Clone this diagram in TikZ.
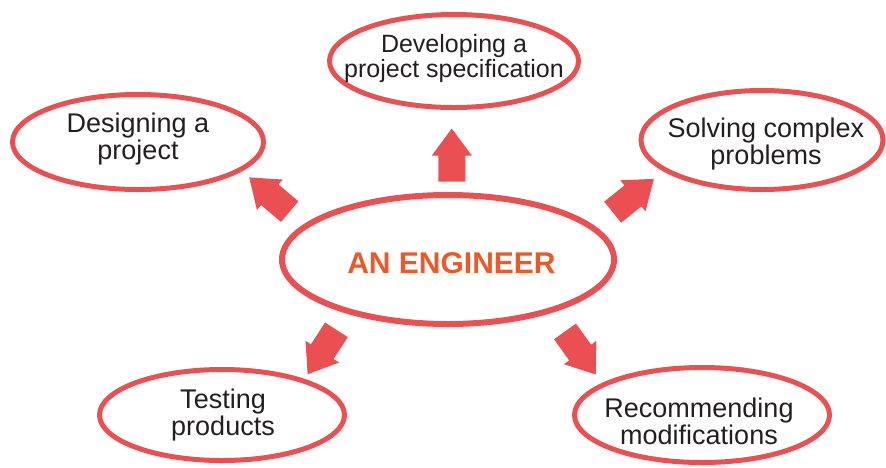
\documentclass[tikz,border=0pt]{standalone}
\usepackage{fontspec}
\setmainfont{Liberation Sans}
\definecolor{engred}{RGB}{234,80,82}
\definecolor{engorange}{RGB}{238,88,38}
\definecolor{engtext}{RGB}{35,31,32}

\begin{document}
\begin{tikzpicture}[x=1pt, y=-1pt,
  ring/.style={draw=engred, line width=5pt},
  task/.style={align=center, inner sep=0pt, text=engtext, font={\fontsize{27}{27}\selectfont}},
  bigarrow/.style={fill=engred}]
  \useasboundingbox (0,0) rectangle (886,467);

  % the ellipses
  \draw[ring, line width=6pt] (448,259.5) ellipse [x radius=166, y radius=64.5];
  \draw[ring] (454,61) ellipse [x radius=124.5, y radius=46.5];
  \draw[ring] (138,142) ellipse [x radius=125.5, y radius=47.5];
  \draw[ring] (762,140) ellipse [x radius=121, y radius=49.5];
  \draw[ring] (222,415) ellipse [x radius=122.5, y radius=45.5];
  \draw[ring] (702,415) ellipse [x radius=127.5, y radius=47.5];

  % the texts
  \node[task, text=engorange, font={\fontsize{30}{30}\selectfont\bfseries}] (eng) at (451.5,263.6) {AN ENGINEER};
  \node[task, font={\fontsize{25}{25}\selectfont}] (dev) at (454,58.9) {Developing a\\project specification};
  \node[task] (design) at (138,139.5) {Designing a\\project};
  \node[task] (solve) at (766,144.5) {Solving complex\\problems};
  \node[task] (test) at (223,415.5) {Testing\\products};
  \node[task] (recom) at (699,421.5) {Recommending\\modifications};

  % the arrows, from their tails
  \coordinate (tDev) at (451.75,181.5);
  \coordinate (tDesign) at (289.7,211.6);
  \coordinate (tSolve) at (612.7,212.2);
  \coordinate (tTest) at (336.4,329.8);
  \coordinate (tRecom) at (565,331.4);
  \foreach \t/\a in {tDev/90, tDesign/139.8, tSolve/39, tTest/237.1, tRecom/-54.4}
    \fill[bigarrow, shift={(\t)}, rotate=\a] (0,-13.5) -- (26,-13.5) -- (26,-20) -- (53,0)
      -- (26,20) -- (26,13.5) -- (0,13.5) -- cycle;
\end{tikzpicture}
\end{document}
